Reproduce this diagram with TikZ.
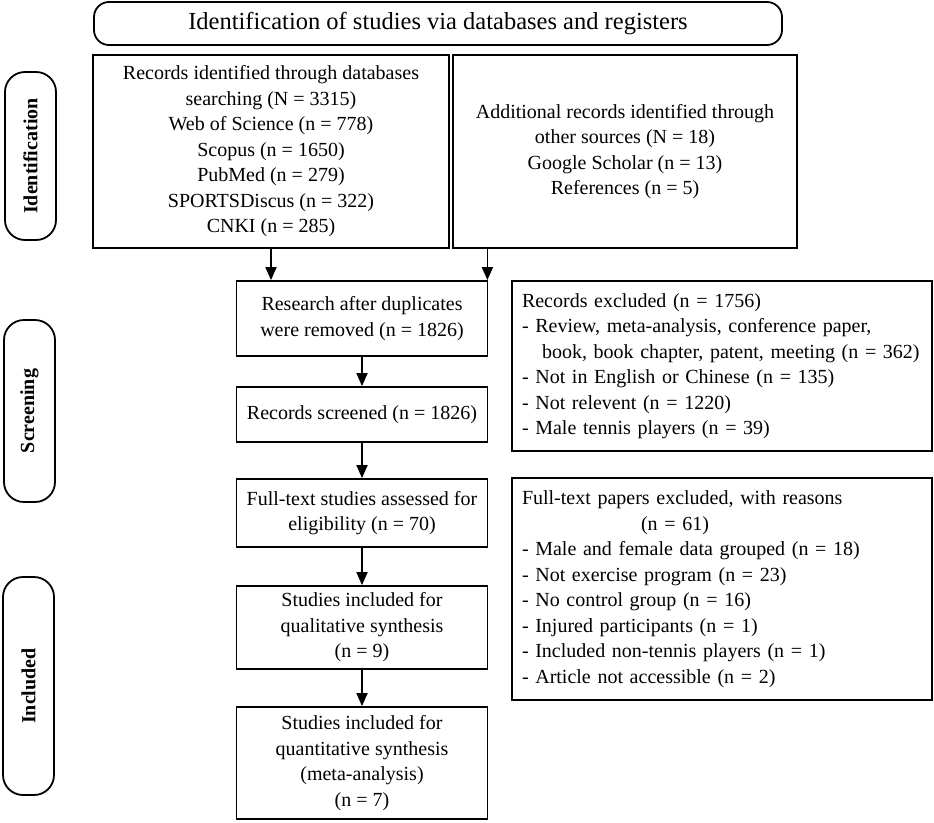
\documentclass[tikz,border=0pt]{standalone}
\usepackage{fontspec}
\setmainfont{Liberation Serif}
\usetikzlibrary{arrows.meta}
\begin{document}
\begin{tikzpicture}[x=1pt,y=-1pt,
	box/.style={draw,line width=1.8pt,inner sep=0pt,align=center,font=\fontsize{20}{25.5}\selectfont},
	lbox/.style={draw,line width=1.8pt,inner xsep=10pt,inner ysep=0pt,text width=400pt,align=left,font=\fontsize{20}{25.5}\selectfont},
	pill/.style={draw,line width=1.8pt,rounded corners=20pt,minimum height=51pt,inner sep=0pt,font=\fontsize{20}{24}\selectfont\bfseries,rotate=90},
	arr/.style={line width=1.8pt,-{Triangle[length=13pt,width=11pt]}}]
	\useasboundingbox (0,0) rectangle (934,822);
	% header and phase labels
	\node[box,rounded corners=15pt,minimum width=688pt,minimum height=43pt,font=\fontsize{24.5}{28}\selectfont] (title) at (438,23.5) {Identification of studies via databases and registers};
	\node[pill,minimum width=168pt] (ident) at (30.5,156) {Identification};
	\node[pill,minimum width=182pt] (screen) at (29.5,411) {Screening};
	\node[pill,minimum width=218pt] (incl) at (28.5,686) {Included};
	% sources
	\node[box,minimum width=356pt,minimum height=193pt] (dbs) at (271,151.5) {Records identified through databases\\searching (N = 3315)\\Web of Science (n = 778)\\Scopus (n = 1650)\\PubMed (n = 279)\\SPORTSDiscus (n = 322)\\CNKI (n = 285)};
	\node[box,minimum width=344pt,minimum height=193pt] (other) at (625,151.5) {Additional records identified through\\other sources (N = 18)\\Google Scholar (n = 13)\\References (n = 5)};
	% main flow
	\node[box,minimum width=251pt,minimum height=75pt] (dedup) at (362,318.5) {Research after duplicates\\were removed (n = 1826)};
	\node[box,minimum width=251pt,minimum height=55pt] (screened) at (362,414.5) {Records screened (n = 1826)};
	\node[box,minimum width=251pt,minimum height=68pt] (full) at (362,513) {Full-text studies assessed for\\eligibility (n = 70)};
	\node[box,minimum width=251pt,minimum height=83pt] (qual) at (362,627.5) {Studies included for\\qualitative synthesis\\(n = 9)};
	\node[box,minimum width=251pt,minimum height=112pt] (quant) at (362,763) {Studies included for\\quantitative synthesis\\(meta-analysis)\\(n = 7)};
	% exclusions
	\node[lbox,minimum height=170pt] (excl) at (722,366) {Records excluded (n = 1756)\\- Review, meta-analysis, conference paper,\\\hspace*{1em}book, book chapter, patent, meeting (n = 362)\\- Not in English or Chinese (n = 135)\\- Not relevent (n = 1220)\\- Male tennis players (n = 39)};
	\node[lbox,minimum height=222pt] (fullexcl) at (722,589) {Full-text papers excluded, with reasons\\\hspace*{119pt}(n = 61)\\- Male and female data grouped (n = 18)\\- Not exercise program (n = 23)\\- No control group (n = 16)\\- Injured participants (n = 1)\\- Included non-tennis players (n = 1)\\- Article not accessible (n = 2)};
	% arrows
	\draw[arr] (dbs.south) -- (dbs.south |- dedup.north);
	\draw[arr] ([xshift=-1pt]dedup.north east |- other.south) -- ([xshift=-1pt]dedup.north east);
	\draw[arr] (dedup.south) -- (screened.north);
	\draw[arr] (screened.south) -- (full.north);
	\draw[arr] (full.south) -- (qual.north);
	\draw[arr] (qual.south) -- (quant.north);
\end{tikzpicture}
\end{document}
